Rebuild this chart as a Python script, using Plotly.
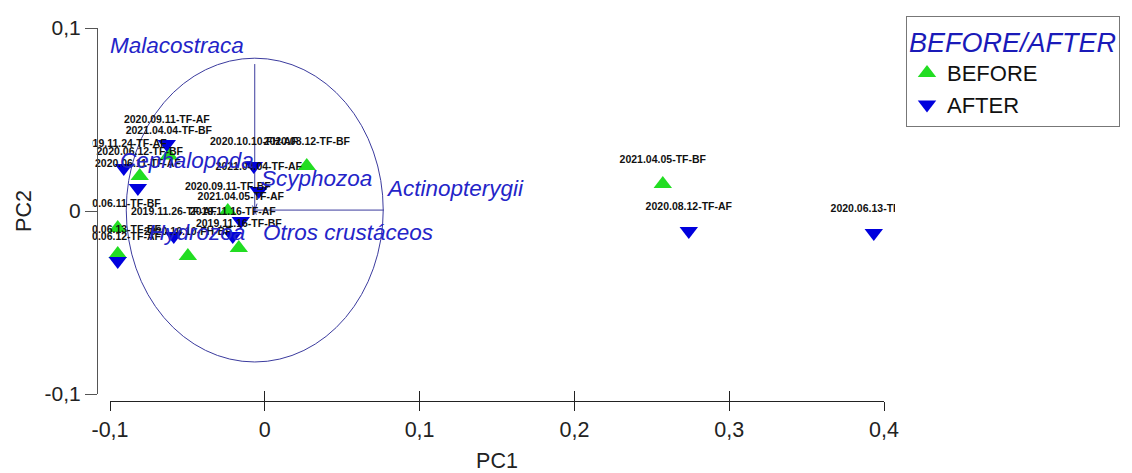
import plotly.graph_objects as go

# ---------------- data ----------------
before_labels = ["2021.04.04-TF-BF", "2020.06.12-TF-BF", "2020.08.12-TF-BF",
                 "2020.09.11-TF-BF", "2020.06.11-TF-BF", "2020.06.13-TF-BF",
                 "2020.10.10-FH-BF", "2019.11.16-TF-BF", "2021.04.05-TF-BF"]
before_pc1 = [-0.0620, -0.0808, 0.0271, -0.0239, -0.0950, -0.0950, -0.0497, -0.0168, 0.2571]
before_pc2 = [0.0303, 0.0191, 0.0246, 0.0000, -0.0093, -0.0235, -0.0246, -0.0202, 0.0148]

after_labels = ["2020.09.11-TF-AF", "2019.11.24-TF-AF", "2020.06.11-TF-AF",
                "2020.10.10-FH-AF", "2021.04.04-TF-AF", "2021.04.05-TF-AF",
                "2019.11.26-TF-AF", "2019.11.16-TF-AF", "2020.06.12-TF-AF",
                "2020.08.12-TF-AF", "2020.06.13-TF-AF"]
after_pc1 = [-0.0633, -0.0911, -0.0820, -0.0071, -0.0039, -0.0155, -0.0588, -0.0207, -0.0950, 0.2739, 0.3934]
after_pc2 = [0.0366, 0.0235, 0.0126, 0.0246, 0.0109, -0.0055, -0.0137, -0.0137, -0.0273, -0.0109, -0.0120]

# biplot (loadings) — vector end points and label anchors
var_names = ["Malacostraca", "Actinopterygii", "Scyphozoa", "Cephalopoda", "Hydrozoa", "Otros crustáceos"]
var_end_pc1 = [-0.0065, 0.0769, -0.0050, -0.0080, -0.0070, -0.0055]
var_end_pc2 = [0.0803, 0.0005, 0.0040, 0.0030, -0.0020, -0.0020]
var_label_pc1 = [-0.1010, 0.0770, -0.0035, -0.0950, -0.0760, -0.0026]
var_label_pc2 = [0.0907, 0.0125, 0.0180, 0.0275, -0.0120, -0.0120]
biplot_origin = (-0.0065, 0.0005)
circle_radius = 0.083

x_tickvals = [-0.1, 0, 0.1, 0.2, 0.3, 0.4]
x_ticktext = ["-0,1", "0", "0,1", "0,2", "0,3", "0,4"]
y_tickvals = [-0.1, 0, 0.1]
y_ticktext = ["-0,1", "0", "0,1"]

# ---------------- layout geometry (pixels) ----------------
W, H = 1132, 473
AX_X0, AX_X1 = 110, 884      # drawn x axis (-0.1 .. 0.4)
CLIP_X0, CLIP_X1 = 92, 895   # plotting / clipping area
Y_TOP, Y_BOT = 28, 394       # y axis 0.1 .. -0.1
XAXIS_Y = 401
YAXIS_X = 97

ppu = (AX_X1 - AX_X0) / (x_tickvals[-1] - x_tickvals[0])
data_xrange = [x_tickvals[0] - (AX_X0 - CLIP_X0) / ppu, x_tickvals[-1] + (CLIP_X1 - AX_X1) / ppu]

SANS = "Liberation Sans, Arial, sans-serif"
GREEN = "#22dd22"
BLUE = "#0000dd"
VBLUE = "#2424c8"
LINE = "#3b3b9e"
LABEL_FONT = dict(family=SANS, size=10.5, color="#111111", weight="bold")

fig = go.Figure()

# biplot vectors
vx, vy = [], []
for ex, ey in zip(var_end_pc1, var_end_pc2):
    vx += [biplot_origin[0], ex, None]
    vy += [biplot_origin[1], ey, None]
fig.add_trace(go.Scatter(x=vx, y=vy, mode="lines", line=dict(color=LINE, width=1),
                         showlegend=False, hoverinfo="skip"))

fig.add_trace(go.Scatter(
    x=before_pc1, y=before_pc2, mode="markers", name="BEFORE",
    marker=dict(symbol="triangle-up", size=16, color=GREEN)))
fig.add_trace(go.Scatter(
    x=after_pc1, y=after_pc2, mode="markers", name="AFTER",
    marker=dict(symbol="triangle-down", size=16, color=BLUE)))

# sample labels (transparent larger markers give the label offset)
fig.add_trace(go.Scatter(
    x=before_pc1, y=before_pc2, mode="markers+text", showlegend=False,
    text=before_labels, textposition="top center", textfont=LABEL_FONT,
    marker=dict(size=28, color="rgba(0,0,0,0)"), hoverinfo="skip"))
fig.add_trace(go.Scatter(
    x=after_pc1, y=after_pc2, mode="markers+text", showlegend=False,
    text=after_labels, textposition="top center", textfont=LABEL_FONT,
    marker=dict(size=28, color="rgba(0,0,0,0)"), hoverinfo="skip"))

# empty traces to host the drawn x axes
for ax in ["x2", "x3"]:
    fig.add_trace(go.Scatter(x=[], y=[], xaxis=ax, yaxis="y", showlegend=False, hoverinfo="skip"))

# correlation circle
fig.add_shape(type="circle", xref="x", yref="y",
              x0=biplot_origin[0] - circle_radius, x1=biplot_origin[0] + circle_radius,
              y0=biplot_origin[1] - circle_radius, y1=biplot_origin[1] + circle_radius,
              line=dict(color=LINE, width=1), layer="below")

for name, lx, ly in zip(var_names, var_label_pc1, var_label_pc2):
    fig.add_annotation(x=lx, y=ly, xref="x", yref="y", text="<i>" + name + "</i>",
                       showarrow=False, xanchor="left", yanchor="middle",
                       font=dict(family=SANS, size=22.5, color=VBLUE))

ydom = [1 - Y_BOT / H, 1 - Y_TOP / H]
fig.update_layout(
    width=W, height=H,
    margin=dict(l=0, r=0, t=0, b=0, autoexpand=False),
    paper_bgcolor="white", plot_bgcolor="rgba(0,0,0,0)",
    xaxis=dict(domain=[CLIP_X0 / W, CLIP_X1 / W], range=data_xrange, visible=False,
               showgrid=False, zeroline=False, automargin=False),
    xaxis2=dict(domain=[AX_X0 / W, AX_X1 / W], range=[x_tickvals[0], x_tickvals[-1]],
                anchor="free", position=1 - XAXIS_Y / H, showline=True, linecolor="#222222",
                linewidth=1, ticks="inside", ticklen=10, tickcolor="#222222",
                tickvals=x_tickvals, showticklabels=False, showgrid=False, zeroline=False,
                automargin=False),
    xaxis3=dict(domain=[AX_X0 / W, AX_X1 / W], range=[x_tickvals[0], x_tickvals[-1]],
                anchor="free", position=1 - XAXIS_Y / H, showline=False,
                ticks="outside", ticklen=9, tickcolor="#222222",
                tickvals=x_tickvals, ticktext=x_ticktext,
                tickfont=dict(family=SANS, size=21.5, color="#222222"),
                title=dict(text="PC1", font=dict(family=SANS, size=21.5, color="#222222"), standoff=12),
                showgrid=False, zeroline=False, automargin=False),
    yaxis=dict(domain=ydom, range=[y_tickvals[0], y_tickvals[-1]], anchor="free",
               position=YAXIS_X / W, showline=True, linecolor="#555555", linewidth=1,
               ticks="outside", ticklen=12, tickcolor="#555555",
               tickvals=y_tickvals, ticktext=y_ticktext,
               tickfont=dict(family=SANS, size=21, color="#222222"),
               title=dict(text="PC2", font=dict(family=SANS, size=21.5, color="#222222"), standoff=6),
               showgrid=False, zeroline=False, automargin=False),
    legend=dict(x=906 / W, y=1 - 16 / H, xanchor="left", yanchor="top",
                bordercolor="#777777", borderwidth=1, bgcolor="white", tracegroupgap=0,
                title=dict(text="<i>BEFORE/AFTER</i>", font=dict(family=SANS, size=27, color="#1a1ab8")),
                font=dict(family=SANS, size=22, color="#111111")),
    showlegend=True,
)

fig.write_html("out.html")
